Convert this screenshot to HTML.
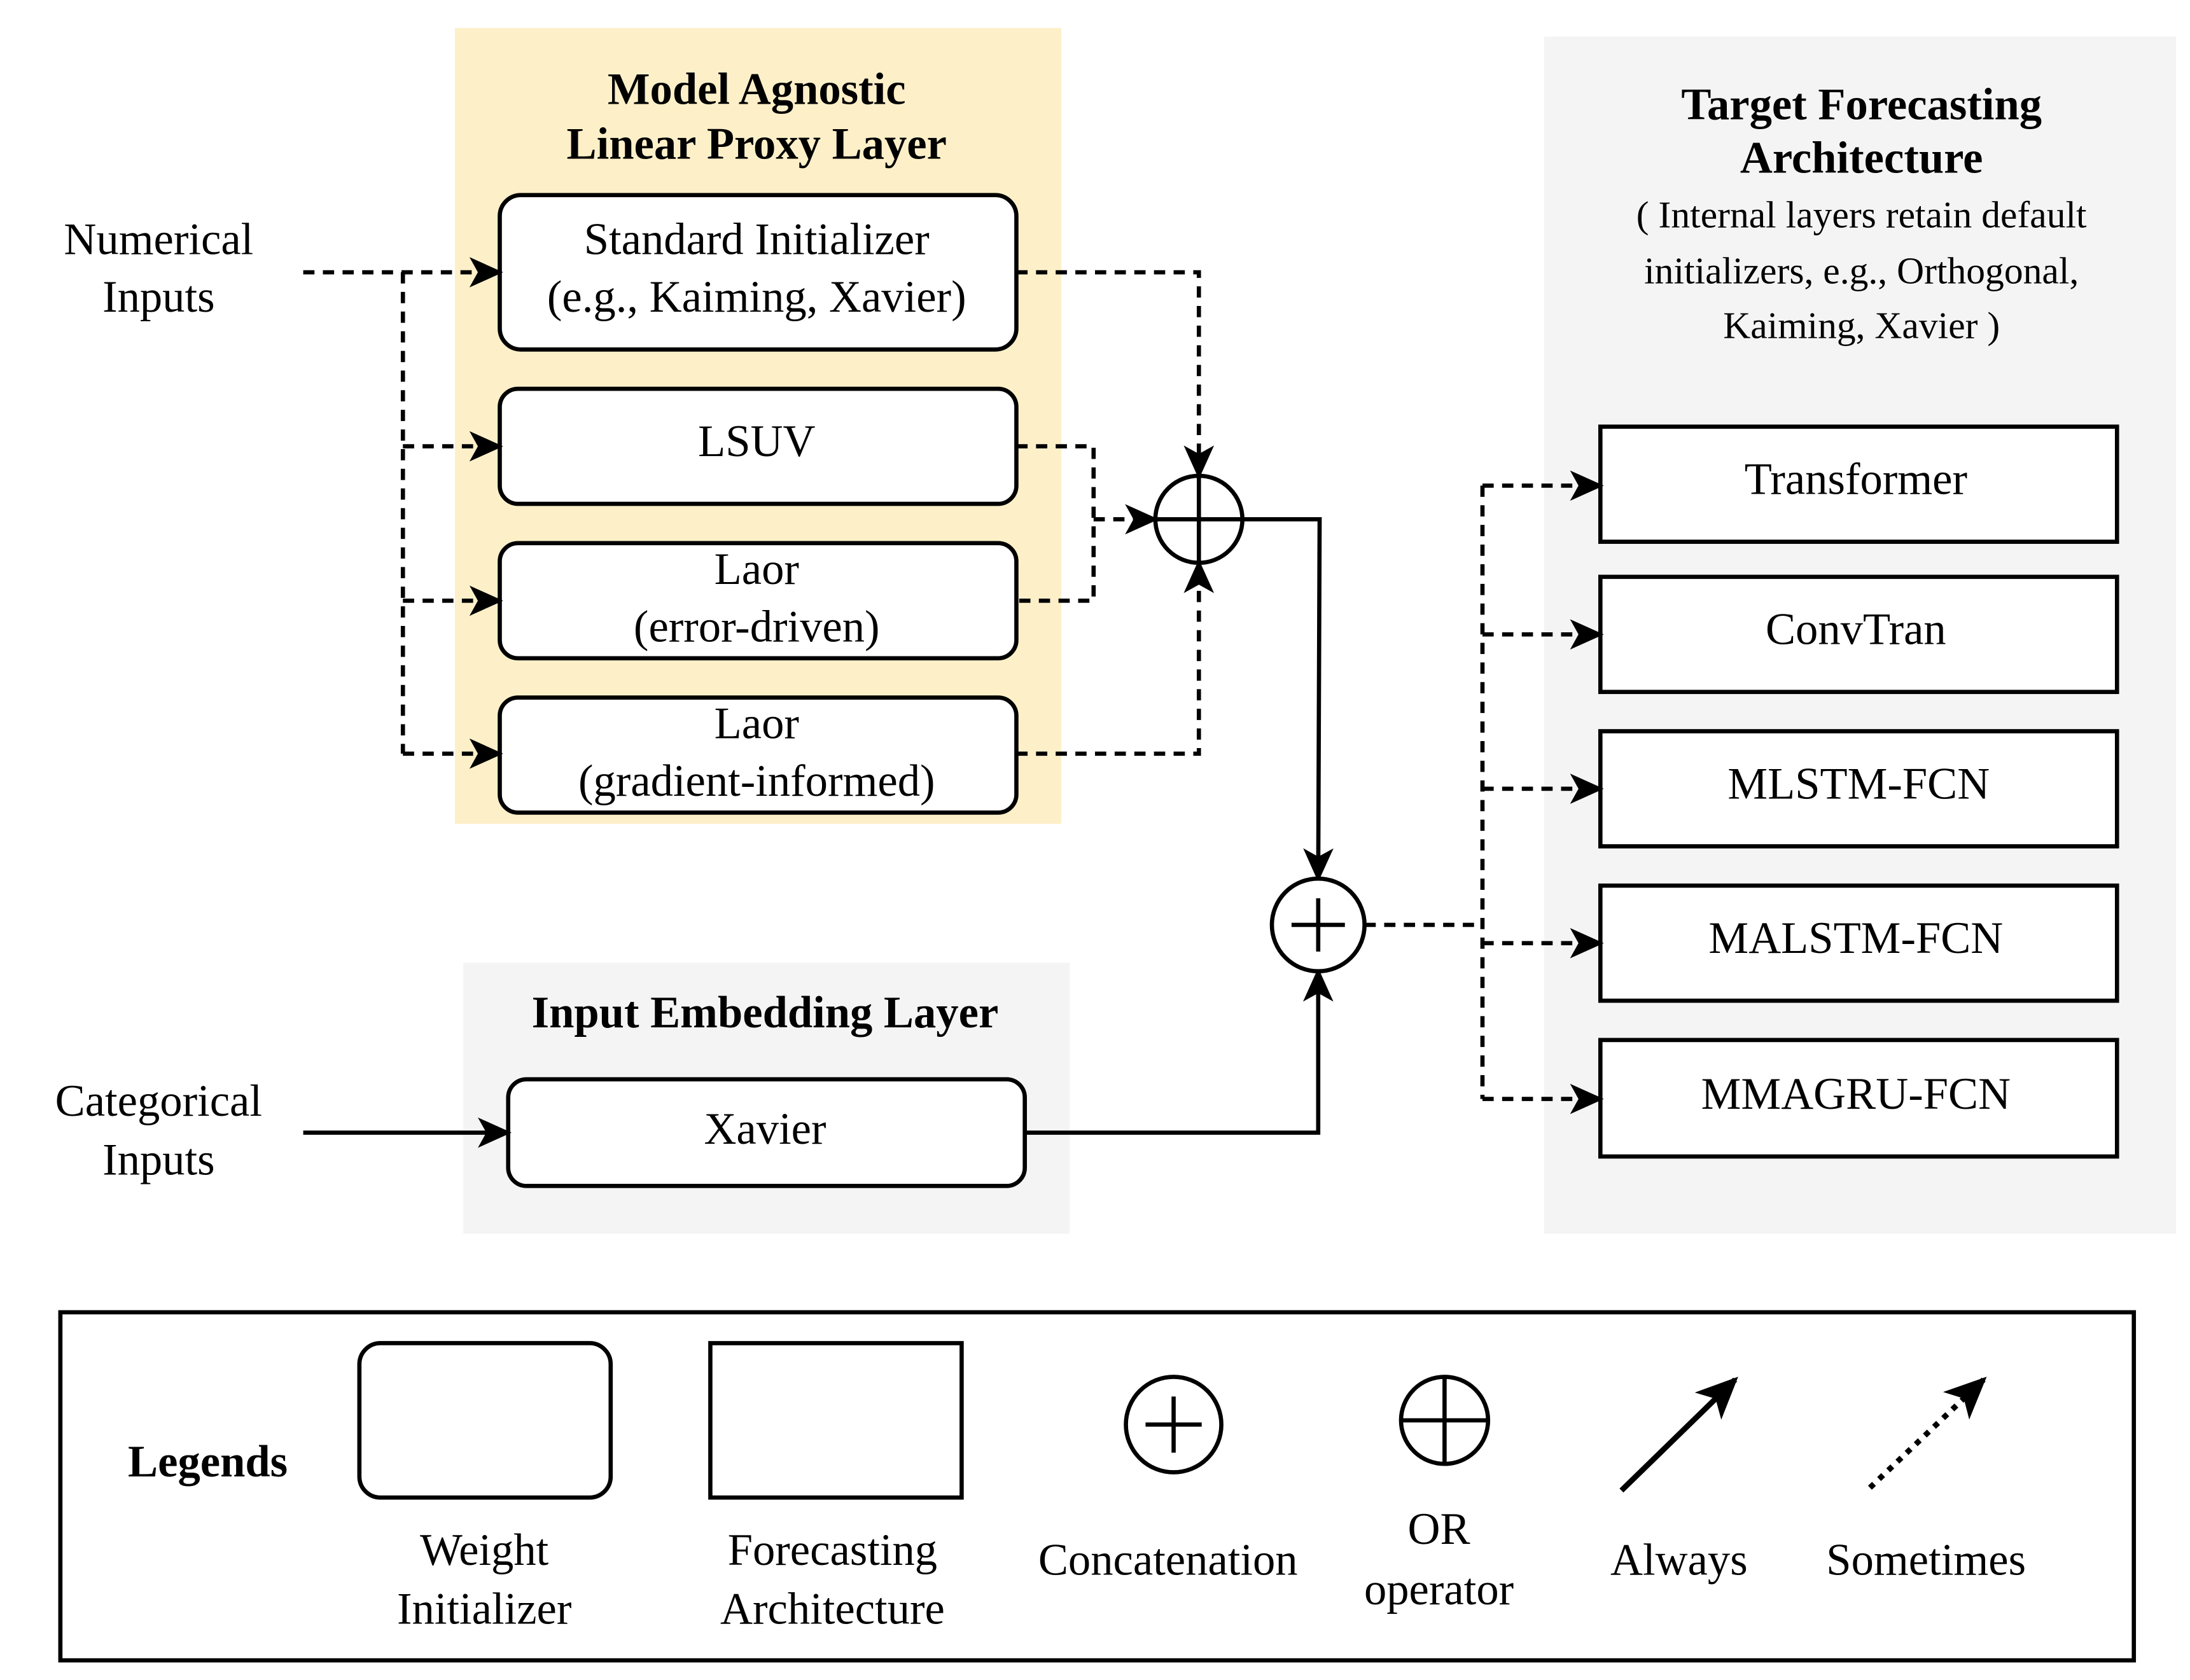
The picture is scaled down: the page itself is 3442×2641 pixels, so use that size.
<!DOCTYPE html>
<html><head><meta charset="utf-8"><style>html,body{margin:0;padding:0;background:#fff}svg{display:block}</style></head>
<body>
<svg width="3442" height="2641" viewBox="0 0 1560 1197" preserveAspectRatio="none" xmlns="http://www.w3.org/2000/svg" font-family="'Liberation Serif', serif">
<defs>
<marker id="a" viewBox="0 0 20 20" refX="18" refY="10" markerWidth="24" markerHeight="24" markerUnits="userSpaceOnUse" orient="auto">
<path d="M0,1 L20,10 L0,19 L5,10 Z" fill="#000"/></marker>
<marker id="a2" viewBox="0 0 20 20" refX="18" refY="10" markerWidth="30" markerHeight="30" markerUnits="userSpaceOnUse" orient="auto">
<path d="M0,1 L20,10 L0,19 L5,10 Z" fill="#000"/></marker>
</defs>
<style>
.ar{marker-end:url(#a)} .d{stroke-dasharray:8,6}
line,path.l,polyline{stroke:#000;stroke-width:3;fill:none}
text{font-size:32px;text-anchor:middle;fill:#000}
.b{font-weight:bold}
</style>
<rect x="324" y="20" width="432" height="567" fill="#fdf0c9"/>
<rect x="330" y="686" width="432" height="193" fill="#f4f4f4"/>
<rect x="1100" y="26" width="450" height="853" fill="#f4f4f4"/>

<text x="539" y="74" class="b">Model Agnostic</text>
<text x="539" y="113" class="b">Linear Proxy Layer</text>
<text x="545" y="732" class="b" fill="#333">Input Embedding Layer</text>
<text x="1326" y="85" class="b" fill="#333">Target Forecasting</text>
<text x="1326" y="123" class="b" fill="#333">Architecture</text>
<text x="1326" y="162" style="font-size:27px" fill="#333">( Internal layers retain default</text>
<text x="1326" y="202" style="font-size:27px" fill="#333">initializers, e.g., Orthogonal,</text>
<text x="1326" y="241" style="font-size:27px" fill="#333">Kaiming, Xavier )</text>

<text x="113" y="181">Numerical</text>
<text x="113" y="222">Inputs</text>
<text x="113" y="795">Categorical</text>
<text x="113" y="837">Inputs</text>

<g fill="#fff" stroke="#000" stroke-width="3">
<rect x="356" y="139" width="368" height="110" rx="15"/>
<rect x="356" y="277" width="368" height="82" rx="13"/>
<rect x="356" y="387" width="368" height="82" rx="13"/>
<rect x="356" y="497" width="368" height="82" rx="13"/>
<rect x="362" y="769" width="368" height="76" rx="13"/>
<rect x="1140" y="304" width="368" height="82"/>
<rect x="1140" y="411" width="368" height="82"/>
<rect x="1140" y="521" width="368" height="82"/>
<rect x="1140" y="631" width="368" height="82"/>
<rect x="1140" y="741" width="368" height="83"/>
</g>
<text x="539" y="181">Standard Initializer</text>
<text x="539" y="222">(e.g., Kaiming, Xavier)</text>
<text x="539" y="325">LSUV</text>
<text x="539" y="416">Laor</text>
<text x="539" y="457">(error-driven)</text>
<text x="539" y="526">Laor</text>
<text x="539" y="567">(gradient-informed)</text>
<text x="545" y="815">Xavier</text>
<text x="1322" y="352">Transformer</text>
<text x="1322" y="459">ConvTran</text>
<text x="1324" y="569">MLSTM-FCN</text>
<text x="1322" y="679">MALSTM-FCN</text>
<text x="1322" y="790">MMAGRU-FCN</text>

<line class="d ar" x1="216" y1="194" x2="356" y2="194"/>
<polyline class="d" points="287,194 287,537"/>
<line class="d ar" x1="287" y1="318" x2="356" y2="318"/>
<line class="d ar" x1="287" y1="428" x2="356" y2="428"/>
<line class="d ar" x1="287" y1="537" x2="356" y2="537"/>
<polyline class="d ar" points="724,194 854,194 854,339"/>
<polyline class="d" points="724,318 779,318 779,428 724,428"/>
<line class="d ar" x1="779" y1="370" x2="823" y2="370"/>
<polyline class="d ar" points="724,537 854,537 854,401"/>
<circle cx="854" cy="370" r="31" fill="#fff" stroke="#000" stroke-width="3"/>
<line x1="823" y1="370" x2="885" y2="370"/><line x1="854" y1="339" x2="854" y2="401"/>
<polyline class="ar" points="885,370 940,370 939,626"/>
<polyline class="ar" points="730,807 939,807 939,692"/>
<line class="ar" x1="216" y1="807" x2="362" y2="807"/>
<ellipse cx="939" cy="659" rx="33" ry="33" fill="#fff" stroke="#000" stroke-width="3"/>
<line x1="920" y1="659" x2="958" y2="659"/><line x1="939" y1="640" x2="939" y2="678"/>
<line class="d" x1="972" y1="659" x2="1056" y2="659"/>
<line class="d" x1="1056" y1="346" x2="1056" y2="783"/>
<line class="d ar" x1="1056" y1="346" x2="1140" y2="346"/>
<line class="d ar" x1="1056" y1="452" x2="1140" y2="452"/>
<line class="d ar" x1="1056" y1="562" x2="1140" y2="562"/>
<line class="d ar" x1="1056" y1="672" x2="1140" y2="672"/>
<line class="d ar" x1="1056" y1="783" x2="1140" y2="783"/>

<rect x="43" y="935" width="1477" height="248" fill="none" stroke="#000" stroke-width="3"/>
<text x="148" y="1052" class="b">Legends</text>
<rect x="256" y="957" width="179" height="110" rx="15" fill="#fff" stroke="#000" stroke-width="3"/>
<rect x="506" y="957" width="179" height="110" fill="#fff" stroke="#000" stroke-width="3"/>
<circle cx="836" cy="1015" r="34" fill="none" stroke="#000" stroke-width="3"/>
<line x1="816" y1="1015" x2="856" y2="1015"/><line x1="836" y1="995" x2="836" y2="1035"/>
<circle cx="1029" cy="1012" r="31" fill="none" stroke="#000" stroke-width="3"/>
<line x1="998" y1="1012" x2="1060" y2="1012"/><line x1="1029" y1="981" x2="1029" y2="1043"/>
<line x1="1155" y1="1062" x2="1236" y2="983" style="stroke-width:4;marker-end:url(#a2)"/>
<line x1="1332" y1="1060" x2="1413" y2="983" style="stroke-width:4;stroke-dasharray:4,5;marker-end:url(#a2)"/>
<text x="345" y="1115">Weight</text>
<text x="345" y="1157">Initializer</text>
<text x="593" y="1115">Forecasting</text>
<text x="593" y="1157">Architecture</text>
<text x="832" y="1122">Concatenation</text>
<text x="1025" y="1100">OR</text>
<text x="1025" y="1143">operator</text>
<text x="1196" y="1122">Always</text>
<text x="1372" y="1122">Sometimes</text>
</svg>
</body></html>
